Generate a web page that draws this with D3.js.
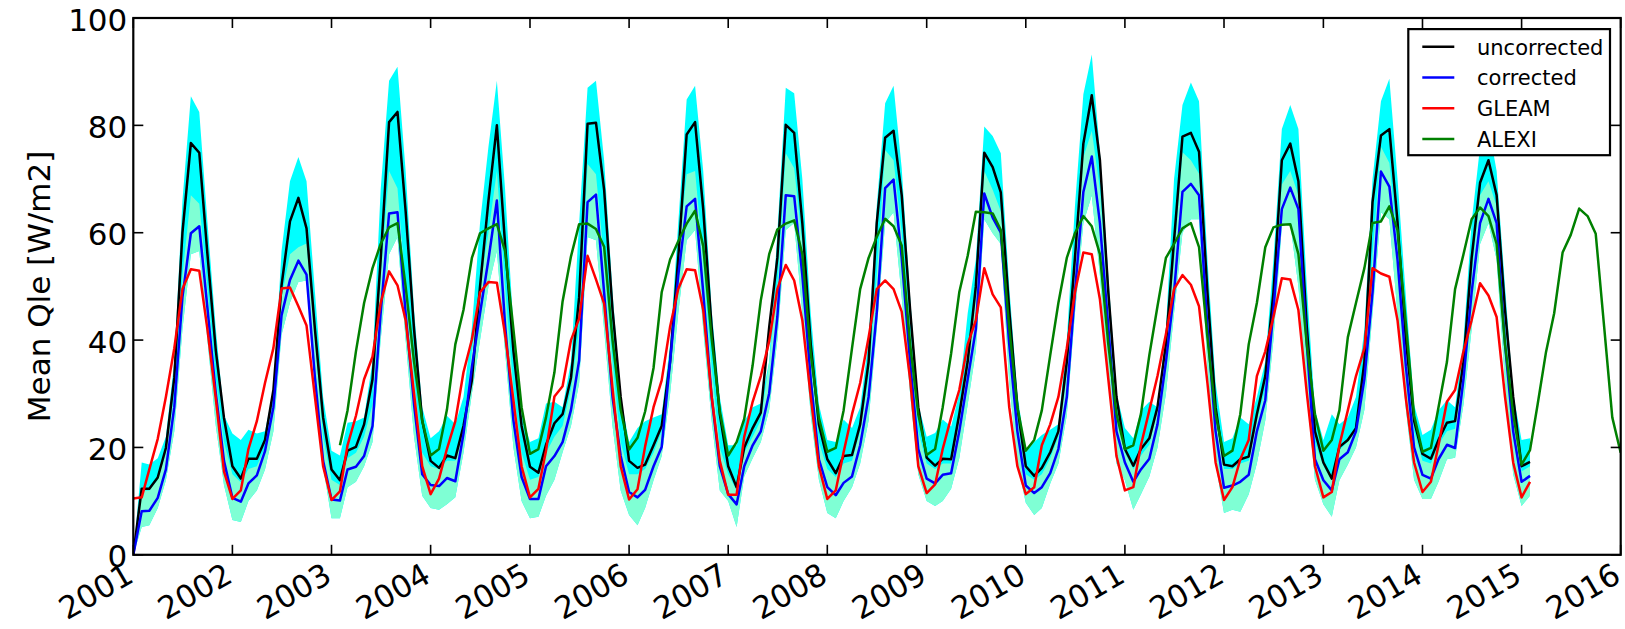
<!DOCTYPE html>
<html><head><meta charset="utf-8">
<script src="https://cdn.jsdelivr.net/npm/d3@7/dist/d3.min.js"></script>
<style>
body{margin:0;background:#fff;}
svg{display:block;}
text{font-family:"DejaVu Sans",sans-serif;fill:#000;}
</style>
</head><body>
<svg id="chart" width="1625" height="629"></svg>
<script>
// ---------------- data ----------------
const yearTicks = [2001,2002,2003,2004,2005,2006,2007,2008,2009,2010,2011,2012,2013,2014,2015,2016];
const yTicks = [0,20,40,60,80,100];
const yLabel = "Mean Qle [W/m2]";
const seriesNames = ["uncorrected","corrected","GLEAM","ALEXI"];
const seriesColors = ["#000000","#0000ff","#ff0000","#008000"];

// monthly values, first value = Jan 2001
const uncorrected = [0,12.3,12.3,14.4,19.9,33,60,76.7,74.9,56,38,25.5,
16.5,14.2,17.9,17.9,21.4,30.7,50.2,62.1,66.5,60.8,42,25.6,
15.9,13.9,19.4,20.1,24.3,32.7,55,80.6,82.5,64,42,25,
17.5,16.2,18.5,18,24,32.5,50,66,80,58,38,24,
16.4,15.3,20.5,24.5,26.2,33,48,80.3,80.5,68,45.6,29.4,
17.5,16.2,16.8,20.4,24,36,55.3,78.3,80.6,64.4,42.4,26.2,
16.5,12.6,20,23.6,26.5,42.4,55.3,80.1,78.6,61.8,39.2,24.3,
17.8,15.2,18.4,18.6,24.3,35.9,61.8,77.7,79,67,45.6,27.5,
18.1,16.6,17.9,17.8,26.2,36,50,74.9,72.2,67.5,45.6,27.5,
16.5,14.7,16.2,19.1,23,35.9,55.3,76.6,85.6,73.5,48.9,29.4,
19.7,16.6,19.7,21.7,27.5,39.2,58.6,77.9,78.6,75.1,48.9,27.5,
16.8,16.5,17.8,18.3,26.2,33.3,48.9,73.5,76.6,69.6,42.4,23,
17.2,14.2,20.1,21.4,23.6,35.9,65.7,78.1,79.3,62,40,25,
18.8,17.9,21.4,24.6,24.9,35.9,55.3,69.3,73.5,67,45.6,29.4,
16.5,17.3];

const corrected = [0,8.1,8.2,10.6,15.9,27.5,48,59.9,61.2,46,30,17.5,
10.6,9.9,13.3,14.8,19.3,27.5,44.6,51.2,54.8,52.2,33,17.5,
10.3,10.1,15.9,16.4,18.4,24,45,63.6,63.8,45,28,15,
13,12.8,14.3,13.7,22.5,35,45,55,66,43,25,14.5,
10.4,10.4,16.5,18.4,21,27,36.2,65.7,67.1,48.9,29.4,18.4,
11.7,10.7,12.1,16.5,20.1,36,52,64.9,66.3,48.9,29.4,16.5,
11.3,9.4,16.5,20.4,23,30.1,44.3,67,66.8,52.1,32.7,17.8,
12.6,11.1,13.4,14.6,20.4,29.4,45,68.3,69.9,55.3,35.9,19.7,
14.2,13.3,14.9,15.2,23,32.7,42,67.3,62.8,60,39.2,23,
12.9,11.5,12.6,15.2,19.7,29.4,48.9,67.6,74.2,61.8,42.4,23,
17.2,13.6,15.9,17.9,24.3,35.9,48.9,67.6,69.1,67,42.4,23,
12.5,12.9,13.6,14.9,23,28.8,45.6,64.4,68.4,64.4,39.2,17.8,
13.9,12,17.8,19.1,23,32.7,48.9,71.4,68.6,55,35,20,
14.9,14.2,17.8,20.5,19.9,32.7,48.9,61.8,66.3,61.8,39.2,23,
13.6,14.7];

const gleam = [10.5,10.7,15.9,21.6,29.4,38.5,49.5,53.2,52.9,42,29,15.5,
10.4,12,19.7,24.9,32,38.5,49.6,49.8,46.3,42.7,29.4,16.5,
10.2,11.8,20.4,25.9,32.7,36.9,46.9,52.8,50.2,43.7,30,16.5,
11.3,14.2,19.7,24.9,34,40.1,48.9,50.8,50.7,41.1,28.8,16.5,
10.7,12.3,19.4,29.5,31.4,40,44,55.7,51.3,46.8,31,16.5,
10.3,12.2,20.2,27.5,32.5,42.5,49.5,53.2,53,45.6,29.5,17.5,
11.2,11.2,22,28.5,33.3,39.8,49.5,54,51.1,43.7,29.4,16.5,
10.4,12,19.1,26.2,32,40.5,49.5,51.1,49.5,45.3,32.7,16.5,
11.5,13.1,19.7,25.6,30.7,39.2,43.7,53.4,48.5,46.1,27.5,16.5,
11.3,12.6,20.4,24.3,29.4,38.5,48.9,56.3,56,47.6,32.7,18.4,
12,12.6,20.4,26.9,33.3,41.1,49.5,52.1,50.3,46.3,32,17.2,
10.2,12.6,17.8,21.4,33.3,37.9,44.3,51.5,51.3,45.6,30.1,16.5,
10.7,11.7,20.4,26.9,33.3,38.5,53.4,52.4,51.8,43.7,29,17.2,
11.7,13.6,20.4,28.5,30.7,37.9,43.7,50.6,48.3,44.3,29.4,17.2,
10.7,13.6];

// ALEXI starts Feb 2003 (month index 25)
const alexiStartMonth = 25;
const alexi = [20.4,26.9,37.9,46.9,53.4,57.9,61,61.8,50,36,25,
18.5,19.7,27,39.2,45.6,55.3,59.9,60.8,61.6,56.6,42,27.5,
18.8,19.7,25.6,34,47.2,55.6,61.6,61.7,60.7,57.4,40,27,
19.6,21.8,26.7,34.8,48.9,55,58.4,61.7,64.1,57.5,40.3,26.8,
18.5,21,25.3,35.3,47.4,56,60.6,61.7,62.3,56,37.5,25.5,
19.2,19.9,26.9,38.5,49.5,55.3,59.2,62.6,61.2,57.6,39.2,26.2,
18.6,19.7,27.5,37.5,48.9,55.7,63.9,63.8,63.6,60.5,42.4,27.5,
19.4,21.4,26.9,37.2,46.9,55.3,59.9,63.1,61.2,56,39.2,26.2,
19.7,20.4,26.2,37.2,46.3,55.3,57.9,60.8,61.8,57.3,40.5,26.2,
18.4,19.4,26.2,39.2,46.9,57.3,61,61.5,61.6,56,39.2,26.2,
19.4,21.4,26.9,40.5,46.9,53.4,61.8,62.1,64.9,60.5,43,26,
19.2,19.9,27.5,35.9,49.5,56,62.5,64.7,63.1,57.9,39.2,26.2,
16.8,19.5,28,37.8,45,56.3,59.6,64.5,63.1,59.8,42.5,25.6,
19];

// uncertainty bands (uncorrected range top, corrected range top / bottom)
const uncorrHigh = [0,17.2,16.8,18,22,36,66,85.4,82.5,62,42,26,
22.6,21.4,23.3,22.6,23,30.7,56.6,69.6,74.1,69.6,48.9,29.4,
19.4,18.5,24.6,24.9,25.6,36,68,88.3,90.9,71.5,45.6,27.5,
21.7,23,25.9,24.3,29.4,42.4,61.8,76,88.3,68.3,42.4,26.2,
21,21.7,28.2,28.5,27.5,36,61.8,87,88.3,73.5,48.9,29.4,
21,23.6,24.9,25.6,26.2,39.2,61.8,84.8,87.4,71.5,45.6,29.4,
20.4,20.4,24.9,27.5,28.2,36,60,87,86,70,45,28,
21.4,21,25.2,23.6,27.5,40,65,84.1,87.4,72,48,28,
22,22.7,25.2,23.9,30,45,55,79.8,78,74.8,50,30,
19.1,21,22.3,23.3,24.3,40,65,85.8,93.2,75,52,30,
23.6,21.7,26.9,28.5,27.5,42,70,83.8,88,84.5,55,32,
21,21.7,25.6,24.3,29.4,36,55,79.3,83.8,79.3,50,27,
21.4,26.2,24.3,25.6,29.4,42,70,84.5,88.7,70,48,28,
22.3,23.3,26.9,28.8,27.5,40,62,76,80,71.5,50,30,
21.4,21.7];

const corrHigh = [0,12,12,14,19,30,52,67,65.4,50,33,21,
15,13.5,16,16.5,20,29,48,56,57.3,58,40,22,
14,13,18,19,22,28,52,71.5,68.3,50,33,19,
16.5,16,17.5,17.5,24,38,50,60,71.5,50,31,19,
14,14.5,19,22,24,31,42,72.8,70.9,55,36,21,
15,15,16,19,23,38,56,70.9,71.5,55,35,20,
15,12,19,22,25,36,50,74.8,72,58,38,21,
16,14.5,17,17.5,23,33,52,75.4,73.5,60,42,23,
17,16,17,17,25,36,48,71.5,68,64,44,25,
15,14,15,18,22,34,54,74,79,68,47,26,
19,16,18.5,20.5,27,39,55,75,73.5,71,47,26,
16,16,17,17.5,25,31,50,69,71.5,67,42,21,
16.5,14,19.5,21,23,34,56,76,73,58,38,23,
17.5,17,20.5,23,23.5,35,52,67,69.6,65,43,26,
15.5,16.5];

const corrLow = [0,5.2,5.5,8.7,13.9,23,42,56,56.6,40,24,13,
6.5,6.1,10,12,15.9,23,41,47,50.8,51.1,32.7,16.5,
6.8,6.8,12.6,13.6,16.5,21,40,56,59.2,40,22,11,
8.7,8.4,9.4,10.7,19,30,40,50,56.6,38,20,10,
6.8,7.1,11,14,19.1,24,32,59.2,58.6,42,24,12,
7.4,5.5,8.7,13.9,18.4,30,45,58.6,60.5,42,25,12,
10,5.2,14.6,18,21,27,40,60.5,61.8,45,26,14,
7.8,6.8,10,12.6,17,25,42,61.8,63.8,48,30,15,
10,9.1,10,12.3,18,28,38,62.5,59.9,57.9,32,17,
9.7,7.4,8.7,13.3,17,26,45,61.8,67,52,32,17,
13.9,8.4,11.3,14.6,20,30,45,60,62.5,62.5,35,17,
7.8,8.4,8,11.3,17,25,40,61.2,61.8,50,30,14,
9.4,7.1,13.9,16.8,20,27,45,63.8,62.5,45,27,14,
10.4,10.4,13.6,17.8,18.1,28,42,57.9,61.8,55,32,15,
9.1,11];

// ---------------- drawing ----------------
const svg = d3.select("#chart");
const L = 133.3, R = 1620.7, T = 18, B = 554.8;
const monthDate = i => new Date(Date.UTC(2001, i, 1));
const x = d3.scaleUtc().domain([new Date(Date.UTC(yearTicks[0],0,1)), new Date(Date.UTC(yearTicks[yearTicks.length-1],0,1))]).range([L, R]);
const y = d3.scaleLinear().domain([0, 100]).range([B, T]);

svg.append("rect").attr("width",1625).attr("height",629).attr("fill","#fff");

svg.append("clipPath").attr("id","clip").append("rect")
  .attr("x", L).attr("y", T).attr("width", R-L).attr("height", B-T);
const plot = svg.append("g").attr("clip-path","url(#clip)");

const cyanArea = d3.area()
  .x((d,i) => x(monthDate(i)))
  .y0((d,i) => y(corrLow[i]))
  .y1(d => y(d));
plot.append("path").datum(uncorrHigh).attr("d", cyanArea).attr("fill", "#00ffff");

const aquaArea = d3.area()
  .x((d,i) => x(monthDate(i)))
  .y0((d,i) => y(corrLow[i]))
  .y1(d => y(d));
plot.append("path").datum(corrHigh).attr("d", aquaArea).attr("fill", "#7fffd4");

const lineFrom = start => d3.line().x((d,i) => x(monthDate(i + start))).y(d => y(d));
const seriesData = [[uncorrected,0],[corrected,0],[gleam,0],[alexi,alexiStartMonth]];
seriesData.forEach(([arr, start], k) => {
  plot.append("path").datum(arr).attr("d", lineFrom(start)(arr))
    .attr("fill","none").attr("stroke", seriesColors[k]).attr("stroke-width", 2.5)
    .attr("stroke-linejoin","round").attr("stroke-linecap","butt");
});

// ticks (inward, both sides)
const tickLen = 10;
const tg = svg.append("g").attr("stroke","#000").attr("stroke-width",1.6);
yearTicks.forEach(yr => {
  const xx = x(new Date(Date.UTC(yr,0,1)));
  tg.append("line").attr("x1",xx).attr("x2",xx).attr("y1",B).attr("y2",B-tickLen);
  tg.append("line").attr("x1",xx).attr("x2",xx).attr("y1",T).attr("y2",T+tickLen);
});
yTicks.forEach(v => {
  const yy = y(v);
  tg.append("line").attr("x1",L).attr("x2",L+tickLen).attr("y1",yy).attr("y2",yy);
  tg.append("line").attr("x1",R).attr("x2",R-tickLen).attr("y1",yy).attr("y2",yy);
});

// frame
svg.append("rect").attr("x",L).attr("y",T).attr("width",R-L).attr("height",B-T)
  .attr("fill","none").attr("stroke","#000").attr("stroke-width",2.2);

// tick labels
yTicks.forEach(v => {
  svg.append("text").attr("x", L-6).attr("y", y(v)+12.5)
    .attr("text-anchor","end").attr("font-size",31).text(v);
});
yearTicks.forEach(yr => {
  const xx = x(new Date(Date.UTC(yr,0,1))) + 2;
  svg.append("text").attr("transform",`translate(${xx},581) rotate(-30)`)
    .attr("text-anchor","end").attr("font-size",31).text(yr);
});

// y label
svg.append("text").attr("transform",`translate(50,${(T+B)/2}) rotate(-90)`)
  .attr("text-anchor","middle").attr("font-size",31).text(yLabel);

// legend
const lg = svg.append("g");
lg.append("rect").attr("x",1408.3).attr("y",29.1).attr("width",201.7).attr("height",126.1)
  .attr("fill","#fff").attr("stroke","#000").attr("stroke-width",2.2);
seriesNames.forEach((nm,i) => {
  const yy = 46.8 + i*30.7;
  lg.append("line").attr("x1",1422.3).attr("x2",1454.3).attr("y1",yy).attr("y2",yy)
    .attr("stroke",seriesColors[i]).attr("stroke-width",2.5);
  lg.append("text").attr("x",1477).attr("y",yy+7.7).attr("font-size",21).text(nm);
});
</script>
</body></html>
